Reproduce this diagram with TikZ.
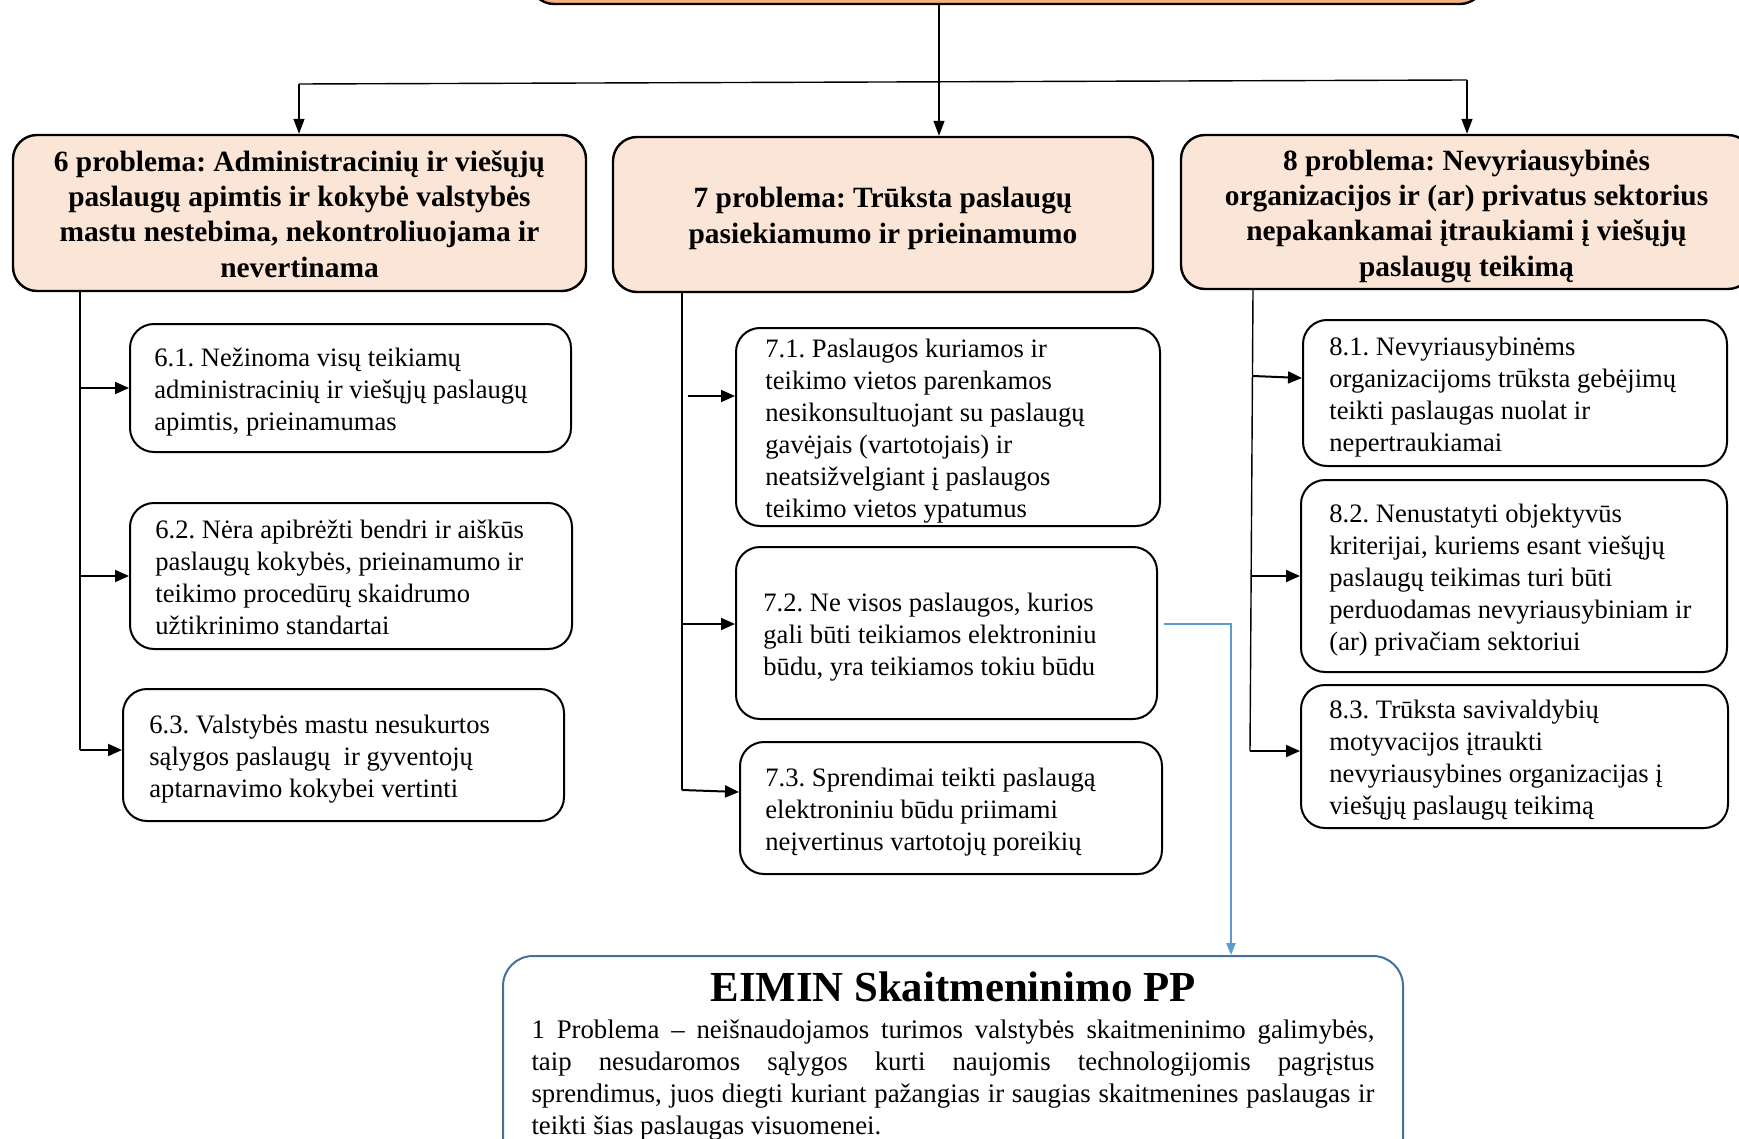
\documentclass[tikz,border=0pt]{standalone}
\usepackage{fontspec}
\setmainfont{Liberation Serif}
\usetikzlibrary{arrows.meta}
\definecolor{peach}{HTML}{FBE5D6}
\definecolor{topor}{HTML}{F4B183}
\definecolor{bluel}{HTML}{5B9BD5}
\definecolor{blueb}{HTML}{41719C}
\newcommand{\natsp}{\frenchspacing\spaceskip=0pt\xspaceskip=0pt\relax}
\tikzset{
  probbox/.style={draw=black, line width=1.2pt, fill=peach, rounded corners=12pt, inner sep=0pt},
  probtext/.style={align=center, inner sep=0pt, font=\fontsize{14.7}{17.6}\selectfont\bfseries},
  subbox/.style={draw=black, line width=1pt, rounded corners=12pt, inner sep=0pt},
  subtext/.style={align=left, anchor=west, font=\fontsize{13.3}{16}\selectfont, inner sep=0pt, yshift=-2pt},
  trunk/.style={draw=black, line width=0.7pt},
  branch/.style={draw=black, line width=1pt, -{Triangle[length=7pt,width=6pt]}},
  toparr/.style={draw=black, line width=0.7pt, -{Triangle[length=7.5pt,width=5.5pt]}},
  bluearr/.style={draw=bluel, line width=1pt, -{Triangle[length=6pt,width=4.5pt]}},
}
\begin{document}
\begin{tikzpicture}[x=0.5pt,y=-0.5pt]
\useasboundingbox (0,0) rectangle (1739,1139);
\clip (0,0) rectangle (1739,1139);
\fill[white] (0,0) rectangle (1739,1139);

% top box (mostly cut off)
\node[draw=black, line width=1.2pt, fill=topor, rounded corners=12pt, minimum width=477pt, minimum height=24pt, inner sep=0pt] (top) at (1007,-20) {};

% problem boxes
\node[probbox, minimum width=286.5pt, minimum height=78pt] (p6) at (299.5,213) {};
\node[probtext] (tp6) at ([yshift=-0.5pt]p6.center)
  {\natsp 6 problema: Administracinių ir viešųjų\\paslaugų apimtis ir kokybė valstybės\\mastu nestebima, nekontroliuojama ir\\nevertinama};
\node[probbox, minimum width=270pt, minimum height=77.5pt] (p7) at (883,214.5) {};
\node[probtext] (tp7) at ([yshift=-2pt]p7.center)
  {\natsp 7 problema: Trūksta paslaugų\\pasiekiamumo ir prieinamumo};
\node[probbox, minimum width=285.5pt, minimum height=77pt] (p8) at (1466.5,212) {};
\node[probtext] (tp8) at ([yshift=-2.2pt]p8.center)
  {\natsp 8 problema: Nevyriausybinės\\organizacijos ir (ar) privatus sektorius\\nepakankamai įtraukiami į viešųjų\\paslaugų teikimą};

% top connectors
\coordinate (tj) at (939,83);
\coordinate (hl) at (299,84);
\coordinate (hr) at (1467,80);
\draw[trunk] (hl) -- (hr);
\draw[toparr] (top.south -| tj) -- (tj |- p7.north);
\draw[toparr] (hl) -- (hl |- p6.north);
\draw[toparr] (hr) -- (hr |- p8.north);

% sub boxes column 6
\node[subbox, minimum width=220.5pt, minimum height=64pt] (b61) at (350.5,388) {};
\node[subtext] (t61) at ([xshift=12.5pt]b61.west) {\natsp 6.1. Nežinoma visų teikiamų\\administracinių ir viešųjų paslaugų\\apimtis, prieinamumas};
\node[subbox, minimum width=221pt, minimum height=73pt] (b62) at (351,576) {};
\node[subtext] (t62) at ([xshift=13pt,yshift=1.5pt]b62.west) {\natsp 6.2. Nėra apibrėžti bendri ir aiškūs\\paslaugų kokybės, prieinamumo ir\\teikimo procedūrų skaidrumo\\užtikrinimo standartai};
\node[subbox, minimum width=220.5pt, minimum height=66pt] (b63) at (343.5,755) {};
\node[subtext] (t63) at ([xshift=13.5pt]b63.west) {\natsp 6.3. Valstybės mastu nesukurtos\\sąlygos paslaugų\ \ ir gyventojų\\aptarnavimo kokybei vertinti};

% sub boxes column 7
\node[subbox, minimum width=212pt, minimum height=99pt] (b71) at (948,427) {};
\node[subtext] (t71) at ([xshift=15pt]b71.west) {\natsp 7.1. Paslaugos kuriamos ir\\teikimo vietos parenkamos\\nesikonsultuojant su paslaugų\\gavėjais (vartotojais) ir\\neatsižvelgiant į paslaugos\\teikimo vietos ypatumus};
\node[subbox, minimum width=210.5pt, minimum height=86pt] (b72) at (946.5,633) {};
\node[subtext] (t72) at ([xshift=14pt]b72.west) {\natsp 7.2. Ne visos paslaugos, kurios\\gali būti teikiamos elektroniniu\\būdu, yra teikiamos tokiu būdu};
\node[subbox, minimum width=211pt, minimum height=66pt] (b73) at (951,808) {};
\node[subtext] (t73) at ([xshift=13pt]b73.west) {\natsp 7.3. Sprendimai teikti paslaugą\\elektroniniu būdu priimami\\neįvertinus vartotojų poreikių};

% sub boxes column 8
\node[subbox, minimum width=212pt, minimum height=73pt] (b81) at (1515,393) {};
\node[subtext] (t81) at ([xshift=13.5pt]b81.west) {\natsp 8.1. Nevyriausybinėms\\organizacijoms trūksta gebėjimų\\teikti paslaugas nuolat ir\\nepertraukiamai};
\node[subbox, minimum width=213pt, minimum height=96pt] (b82) at (1514,576) {};
\node[subtext] (t82) at ([xshift=14.5pt]b82.west) {\natsp 8.2. Nenustatyti objektyvūs\\kriterijai, kuriems esant viešųjų\\paslaugų teikimas turi būti\\perduodamas nevyriausybiniam ir\\(ar) privačiam sektoriui};
\node[subbox, minimum width=213.5pt, minimum height=71.5pt] (b83) at (1514.5,756.5) {};
\node[subtext] (t83) at ([xshift=14.5pt]b83.west) {\natsp 8.3. Trūksta savivaldybių\\motyvacijos įtraukti\\nevyriausybines organizacijas į\\viešųjų paslaugų teikimą};

% left trunk
\coordinate (l0) at (80,291);
\coordinate (l3) at (80,750);
\draw[trunk] (p6.south -| l0) -- (l3);
\draw[branch] (l0 |- b61.west) -- (b61.west);
\draw[branch] (l0 |- b62.west) -- (b62.west);
\draw[branch] (l3) -- (b63.west |- l3);

% middle trunk
\coordinate (m0) at (682,292);
\coordinate (m3) at (682,790);
\coordinate (m1) at (688,396);
\coordinate (m2) at (682,624);
\draw[trunk] (p7.south -| m0) -- (m3);
\draw[branch] (m1) -- (b71.west |- m1);
\draw[branch] (m2) -- (b72.west |- m2);
\draw[branch] (m3) -- ([yshift=-1pt]b73.west |- m3);

% right trunk
\coordinate (r0) at (1253,289);
\coordinate (r3) at (1250,751);
\coordinate (r1) at (1253,376);
\coordinate (r2) at (1252,576);
\draw[trunk] (p8.south -| r0) -- (r3);
\draw[branch] (r1) -- ([yshift=-1pt]b81.west |- r1);
\draw[branch] (r2) -- (b82.west |- r2);
\draw[branch] (r3) -- (b83.west |- r3);

% bottom box
\node[draw=blueb, line width=1pt, rounded corners=15pt, minimum width=450pt, minimum height=110pt, inner sep=0pt] (eimin) at (953,1066) {};
\node[font=\fontsize{21.4}{26}\selectfont\bfseries, inner sep=0pt] (eimt) at (953,987) {EIMIN Skaitmeninimo PP};
\node[font=\fontsize{13.4}{16}\selectfont, text width=421.5pt, align=left, inner sep=0pt, anchor=north] (eimb) at (953,1019)
  {\natsp\makebox[421.5pt][s]{1 Problema – neišnaudojamos turimos valstybės skaitmeninimo galimybės,}\\
   \makebox[421.5pt][s]{taip nesudaromos sąlygos kurti naujomis technologijomis pagrįstus}\\
   \makebox[421.5pt][s]{sprendimus, juos diegti kuriant pažangias ir saugias skaitmenines paslaugas ir}\\
   teikti šias paslaugas visuomenei.};

% blue connector
\coordinate (bs) at (1164,624);
\coordinate (bc) at (1231,624);
\draw[bluearr] (bs) -- (bc) -- (bc |- eimin.north);
\end{tikzpicture}
\end{document}
